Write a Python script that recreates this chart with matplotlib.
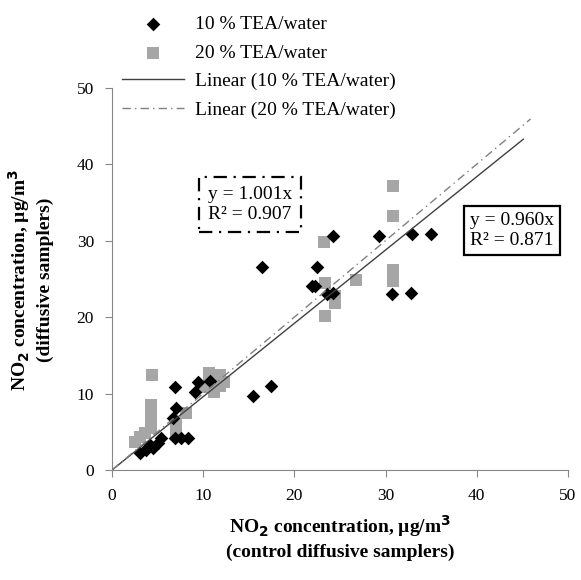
import matplotlib
matplotlib.use("Agg")
import matplotlib.pyplot as plt
import numpy as np

# 10 % TEA/water (black diamonds)
x10 = [16.4, 22.5, 21.9, 22.3, 24.2, 29.3, 32.9, 35.0, 30.7, 32.8, 23.6, 24.2,
       17.4, 15.5, 6.9, 9.4, 9.1, 10.7, 7.0, 6.7, 6.9, 7.6, 8.3, 3.1, 3.7, 4.5,
       5.0, 5.4, 4.2, 3.9]
y10 = [26.6, 26.6, 24.1, 24.1, 30.6, 30.6, 30.9, 30.9, 23.0, 23.2, 23.0, 23.2,
       11.0, 9.7, 10.9, 11.5, 10.2, 11.6, 8.1, 6.8, 4.2, 4.2, 4.2, 2.2, 2.6, 2.9,
       3.5, 4.2, 3.3, 3.0]

# 20 % TEA/water (grey squares)
x20 = [4.4, 4.3, 4.3, 4.3, 4.3, 3.1, 2.5, 3.6, 7.0, 7.0, 8.1, 10.6, 11.8, 10.6,
       11.8, 11.2, 12.3, 10.0, 23.3, 23.4, 24.4, 24.5, 23.4, 26.8, 30.8, 30.8,
       30.8, 30.8]
y20 = [12.4, 8.5, 7.5, 6.5, 5.5, 4.3, 3.7, 4.8, 6.2, 5.0, 7.5, 12.7, 12.4, 11.2,
       11.0, 10.2, 11.5, 10.8, 29.8, 24.5, 22.8, 21.8, 20.1, 24.9, 26.2, 24.8,
       37.2, 33.2]

slope10 = 0.960
slope20 = 1.001
r2_10 = 0.871
r2_20 = 0.907
xend10 = 45.1
xend20 = 45.9

xticks = [0, 10, 20, 30, 40, 50]
yticks = [0, 10, 20, 30, 40, 50]

plt.rcParams['font.family'] = ['Liberation Serif', 'DejaVu Serif']

fig = plt.figure(figsize=(5.81, 5.80), dpi=100)
ax = fig.add_axes([112/581, 1-470/580, (568-112)/581, (470-88)/580])

ax.scatter(x20, y20, marker='s', s=85, color='#a6a6a6', linewidths=0, zorder=2,
           label='20 % TEA/water')
ax.scatter(x10, y10, marker='D', s=48, color='black', linewidths=0, zorder=3,
           label='10 % TEA/water')

xl10 = np.array([0, xend10])
xl20 = np.array([0, xend20])
ax.plot(xl10, slope10 * xl10, color='#404040', lw=1.0, zorder=4,
        label='Linear (10 % TEA/water)')
ax.plot(xl20, slope20 * xl20, color='#808080', lw=1.0, ls=(0, (6, 3, 1, 3)), zorder=4,
        label='Linear (20 % TEA/water)')

ax.set_xlim(0, 50)
ax.set_ylim(0, 50)
ax.set_xticks(xticks)
ax.set_yticks(yticks)
for s in ['top', 'right']:
    ax.spines[s].set_visible(False)
for s in ['left', 'bottom']:
    ax.spines[s].set_color('#868686')
ax.tick_params(direction='out', length=5, color='#868686', labelsize=12.5, pad=8)

ax.text(0.302, 0.695, 'y = %.3fx\nR² = %.3f' % (slope20, r2_20), transform=ax.transAxes,
        fontsize=14, ha='center', va='center', linespacing=1.2,
        bbox=dict(boxstyle='square,pad=0.45', fc='white', ec='black', lw=1.6,
                  ls=(0, (6, 3, 1, 3))))
ax.text(0.877, 0.627, 'y = %.3fx\nR² = %.3f' % (slope10, r2_10), transform=ax.transAxes,
        fontsize=14, ha='center', va='center', linespacing=1.2,
        bbox=dict(boxstyle='square,pad=0.3', fc='white', ec='black', lw=1.6))

h, l = ax.get_legend_handles_labels()
order = [1, 0, 2, 3]
leg = fig.legend([h[i] for i in order], [l[i] for i in order],
                 loc='upper left', bbox_to_anchor=(110/581, 1-4/580), frameon=False,
                 fontsize=14, handlelength=3.2, handletextpad=0.55, labelspacing=0.56,
                 borderaxespad=0.2)

fig.text(340/581, 1-537/580,
         'NO$_\\mathbf{2}$ concentration, µg/m$^\\mathbf{3}$\n(control diffusive samplers)',
         ha='center', va='center', fontsize=14, fontweight='bold', linespacing=1.3)
fig.text(30/581, 1-280/580,
         'NO$_\\mathbf{2}$ concentration, µg/m$^\\mathbf{3}$\n(diffusive samplers)',
         ha='center', va='center', fontsize=14, fontweight='bold', linespacing=1.3,
         rotation=90, multialignment='center')

fig.savefig('out.png', dpi=100)
